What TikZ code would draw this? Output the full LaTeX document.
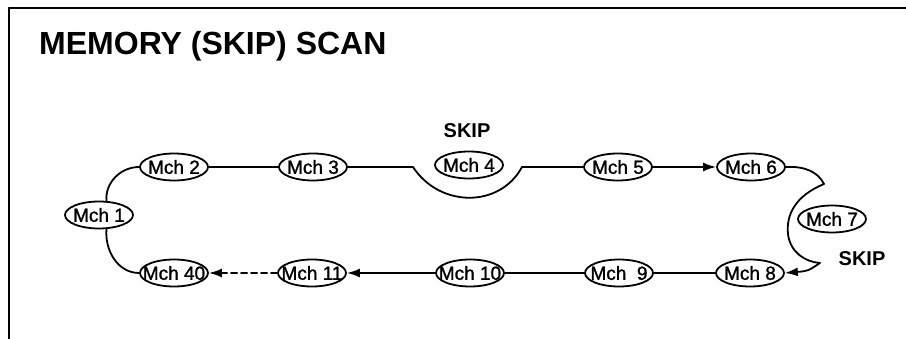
\documentclass[tikz,border=0pt]{standalone}
\usepackage{fontspec}
\setmainfont{Liberation Sans}
\newfontfamily\mchfont{Liberation Sans}[FakeBold=1.3]
\usetikzlibrary{arrows.meta,shapes.geometric}

\begin{document}
\begin{tikzpicture}[x=1pt,y=-1pt,line cap=round,line join=round,
  mch/.style={draw,ellipse,line width=1.8pt,minimum width=68pt,minimum height=27pt,
    inner xsep=-10pt,inner ysep=0pt,font=\mchfont\fontsize{19}{19}\selectfont},
  wire/.style={line width=1.8pt},
  fwd/.style={-{Latex[length=13pt,width=9pt]}},
  skiplbl/.style={font=\fontsize{20}{20}\selectfont\bfseries,inner sep=0pt}]
\useasboundingbox(0,0)rectangle(906,339);
% frame, open at right and bottom
\draw[line width=2.6pt](9,8)--(906,8);
\draw[line width=1.8pt](9,8)--(9,339);
\node[font=\fontsize{32}{32}\selectfont\bfseries,anchor=base west,inner sep=0pt]
  (title)at(39,55){MEMORY (SKIP) SCAN};
% channels
\node[mch](m1)at(99,215){Mch 1};
\foreach \n/\x in {2/174,3/313,5/618,6/751}
  \node[mch](m\n)at(\x,167){Mch \n};
\node[mch](m4)at(469,165){Mch 4};
\node[mch](m7)at(832,219){Mch 7};
\node[mch](m8)at(750,273){Mch 8};
\node[mch](m9)at(619,273){Mch\ \ 9};
\node[mch](m10)at(470,273){Mch 10};
\node[mch](m11)at(312,273){Mch 11};
\node[mch](m40)at(174,273){Mch 40};
\node[skiplbl](skipa)at(467,131){SKIP};
\node[skiplbl](skipb)at(862,259){SKIP};
% scan path
\draw[wire](m1.62)to[out=95,in=180](m2.west);
\draw[wire](m2)--(m3);
\draw[wire](m3.east)--(413,167)
  ..controls(440,208)and(500,208)..(522,167)--(m5.west);
\draw[wire,fwd](m5)--(m6);
\draw[wire,fwd](m6.east)..controls(805,166)and(818,172)..(824,184)
  ..controls(795,196)and(786,215)..(788,234)
  ..controls(790,252)and(805,262)..(820,263)
  ..controls(808,271)..(m8.east);
\draw[wire](m8)--(m9);
\draw[wire](m9)--(m10);
\draw[wire,fwd](m10)--(m11);
\draw[wire,fwd,dash pattern=on 6pt off 4pt](m11)--(m40);
\draw[wire](m1.-62)to[out=-95,in=180](m40.west);
\end{tikzpicture}
\end{document}
